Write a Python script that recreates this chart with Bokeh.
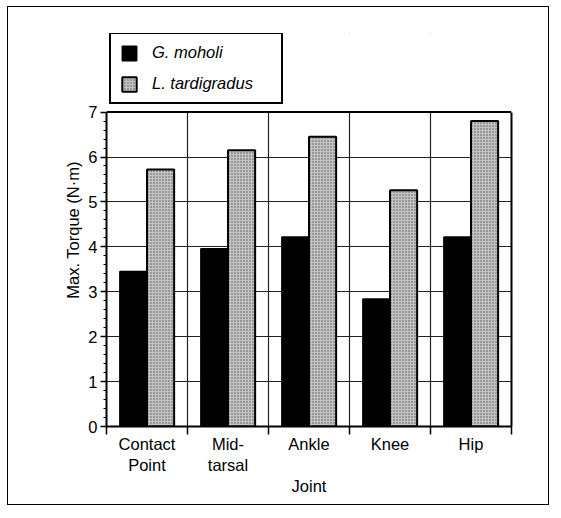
from bokeh.plotting import figure
from bokeh.models import (ColumnDataSource, FixedTicker, Legend, LegendItem, Range1d,
                          BoxAnnotation, Span, LinearAxis)
from bokeh.transform import dodge
from bokeh.embed import file_html
from bokeh.resources import INLINE

joints = ["Contact\nPoint", "Mid-\ntarsal", "Ankle", "Knee", "Hip"]
g_moholi = [3.45, 3.96, 4.22, 2.84, 4.22]
l_tardigradus = [5.72, 6.15, 6.45, 5.26, 6.80]
y_ticks = [0, 1, 2, 3, 4, 5, 6, 7]

FONT = "Liberation Sans"
YMAX = y_ticks[-1]

pos = [i + 0.5 for i in range(len(joints))]
src = ColumnDataSource(dict(x=pos, g=g_moholi, l=l_tardigradus))

# frame extends above the axis top to hold the legend (as in the original figure)
p = figure(width=542, height=499, output_backend="svg", toolbar_location=None,
           x_range=Range1d(0, len(joints)), y_range=Range1d(0, 8.75),
           min_border_left=98, min_border_top=26, min_border_right=39, min_border_bottom=80)
p.styles = {"border": "1.5px solid black", "margin-left": "7px", "margin-top": "6px"}

bw = 0.335
r1 = p.vbar(x=dodge("x", -bw / 2, range=p.x_range), top="g", width=bw, source=src,
            fill_color="black", line_color="black", line_width=1.5)
r2 = p.vbar(x=dodge("x", bw / 2, range=p.x_range), top="l", width=bw, source=src,
            fill_color="#c4c4c4", line_color="black", line_width=2,
            hatch_pattern="dot", hatch_scale=3, hatch_weight=1, hatch_color="#555555")

# axes
p.xaxis.ticker = FixedTicker(ticks=pos, minor_ticks=list(range(len(joints) + 1)))
p.xaxis.major_label_overrides = {pos[i]: joints[i] for i in range(len(joints))}
p.xaxis.major_tick_out = 0
p.xaxis.major_tick_in = 0
p.xaxis.minor_tick_out = 8
p.xaxis.minor_tick_in = 0
p.xaxis.minor_tick_line_color = "black"
p.xaxis.minor_tick_line_width = 1.5
p.xaxis.axis_label = "Joint"

p.yaxis.ticker = FixedTicker(ticks=y_ticks, minor_ticks=[i * 0.2 for i in range(36)])
p.yaxis.bounds = (0, YMAX)
p.yaxis.major_tick_out = 6
p.yaxis.major_tick_in = 0
p.yaxis.minor_tick_out = 3
p.yaxis.minor_tick_in = 0
p.yaxis.axis_label = "Max. Torque (N·m)"

for ax in (p.xaxis[0], p.yaxis[0]):
    ax.axis_line_color = "black"
    ax.axis_line_width = 2
    ax.major_tick_line_color = "black"
    ax.major_tick_line_width = 1.5
    ax.minor_tick_line_color = "black"
    ax.major_label_text_font = FONT
    ax.major_label_text_font_size = "16.5px"
    ax.major_label_text_color = "black"
    ax.axis_label_text_font = FONT
    ax.axis_label_text_font_size = "16.5px"
    ax.axis_label_text_font_style = "normal"
    ax.axis_label_text_color = "black"

p.xaxis.major_label_standoff = 0
p.xaxis.axis_label_standoff = 0
p.yaxis.major_label_standoff = 3
p.yaxis.axis_label_standoff = 3

# right frame edge (bounded to the data area)
right_ax = LinearAxis(bounds=(0, YMAX), ticker=FixedTicker(ticks=[]),
                      major_label_text_alpha=0, major_tick_out=0, major_tick_in=0,
                      minor_tick_out=0, minor_tick_in=0,
                      axis_line_color="black", axis_line_width=2)
p.add_layout(right_ax, "right")

# grids
p.xgrid.ticker = FixedTicker(ticks=[1, 2, 3, 4])
p.xgrid.grid_line_color = "#222222"
p.xgrid.grid_line_width = 1.2
p.ygrid.ticker = FixedTicker(ticks=[1, 2, 3, 4, 5, 6])
p.ygrid.grid_line_color = "#222222"
p.ygrid.grid_line_width = 1.2

p.outline_line_color = None

# blank the region above the axis top, then draw the top edge
p.add_layout(BoxAnnotation(bottom=YMAX, fill_color="white", fill_alpha=1, line_alpha=0))
p.add_layout(Span(location=YMAX, dimension="width", line_color="black", line_width=2))

legend = Legend(items=[LegendItem(label="G. moholi", renderers=[r1]),
                       LegendItem(label="L. tardigradus", renderers=[r2])],
                location=(3, 322), orientation="vertical")
legend.label_text_font = FONT
legend.label_text_font_style = "italic"
legend.label_text_font_size = "16.5px"
legend.label_text_color = "black"
legend.glyph_width = 18
legend.glyph_height = 18
legend.label_height = 18
legend.label_width = 120
legend.label_standoff = 14
legend.spacing = 12
legend.padding = 9
legend.margin = 0
legend.border_line_color = "black"
legend.border_line_width = 2
legend.border_line_alpha = 1
legend.background_fill_alpha = 1
p.add_layout(legend, "center")

open("out.html", "w").write(file_html(p, INLINE))
